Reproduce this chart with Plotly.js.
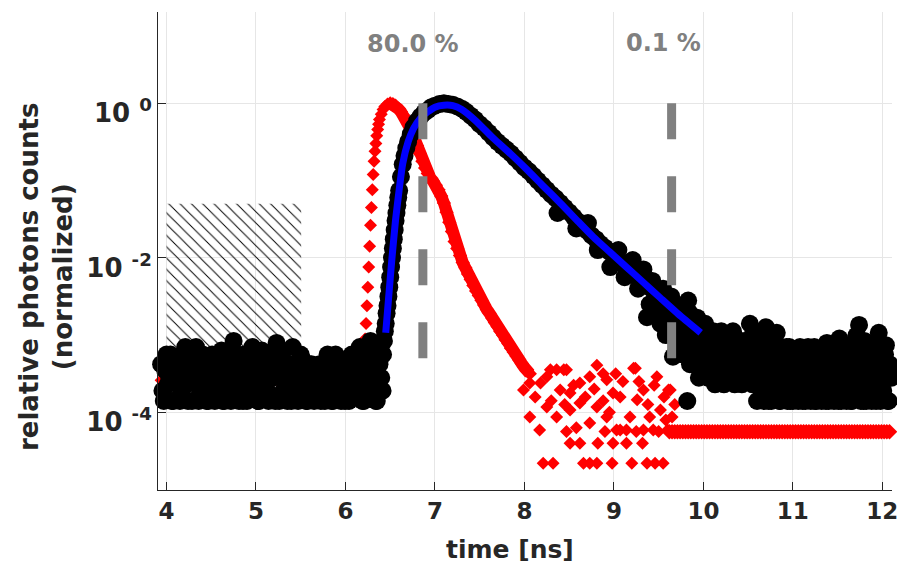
<!DOCTYPE html>
<html>
<head>
<meta charset="utf-8">
<script src="https://cdn.plot.ly/plotly-3.0.1.min.js"></script>
<style>html,body{margin:0;padding:0;background:#fff;}#chart{width:897px;height:567px;}</style>
</head>
<body>
<div id="chart"></div>
<script>
// ---------- IRF (red diamonds) ----------
const irfBaseX = [3.94,3.99,4.04,4.09,4.14,4.19,4.24,4.29,4.34,4.39,4.44,4.49,4.54,4.59,4.64,4.69,4.74,4.79,4.84,4.89,4.94,4.99,5.04,5.09,5.14,5.19,5.24,5.29,5.34,5.39,5.44,5.49,5.54,5.59,5.64,5.69,5.74,5.79,5.84,5.89,5.94,5.99,6.04,6.09,6.14,6.19];
const irfBaseY = [2.6e-4,2.6e-4,2.4e-4,2.6e-4,2.8e-4,2.6e-4,2.2e-4,2.6e-4,2.6e-4,2.4e-4,2.6e-4,2.6e-4,2.8e-4,2.6e-4,2.4e-4,2.6e-4,2.2e-4,2.6e-4,2.6e-4,2.6e-4,2.4e-4,2.8e-4,2.6e-4,2.6e-4,2.2e-4,2.6e-4,2.6e-4,2.4e-4,2.6e-4,2.6e-4,2.8e-4,2.6e-4,2.6e-4,2.2e-4,2.6e-4,2.4e-4,2.6e-4,2.6e-4,2.6e-4,2.8e-4,2.6e-4,2.4e-4,2.6e-4,2.6e-4,2.8e-4,3.0e-4];

const irfRiseX = [6.20,6.21,6.22,6.23,6.24,6.25,6.26,6.27,6.28,6.29,6.30,6.31,6.32,6.33,6.34,6.35,6.36,6.37,6.38,6.40,6.42,6.44,6.47];
const irfRiseY = [3.55e-4,5.62e-4,8.91e-4,1.41e-3,2.40e-3,4.17e-3,7.59e-3,0.0141,0.0263,0.0447,0.0759,0.120,0.178,0.240,0.302,0.380,0.457,0.537,0.617,0.724,0.832,0.912,0.977];

const irfFallX = [6.50,6.53,6.56,6.59,6.62,6.65,6.68,6.71,6.74,6.77,6.80,6.83,6.86,6.89,6.92,6.95,6.98,7.01,7.04,7.07,7.10,7.13,7.16,7.19,7.22,7.25,7.28,7.31,7.34,7.37,7.40,7.43,7.46,7.49,7.52,7.55,7.58,7.61,7.64,7.67,7.70,7.73,7.76,7.79,7.82,7.85,7.88,7.91,7.94,7.97,8.00,8.03,8.06];
const irfFallY = [1,0.977,0.933,0.851,0.776,0.692,0.617,0.525,0.437,0.355,0.282,0.224,0.178,0.145,0.123,0.107,0.0977,0.0871,0.0759,0.0631,0.0513,0.0389,0.0288,0.0219,0.0162,0.0132,0.0107,8.71e-3,7.41e-3,6.17e-3,5.25e-3,4.37e-3,3.72e-3,3.24e-3,2.82e-3,2.45e-3,2.14e-3,1.91e-3,1.66e-3,1.45e-3,1.29e-3,1.12e-3,1.0e-3,8.71e-4,7.76e-4,6.76e-4,6.03e-4,5.37e-4,4.79e-4,4.27e-4,3.80e-4,3.47e-4,3.16e-4];

const irfNoiseX = [7.99,8.06,8.17,8.25,8.21,8.32,8.36,8.47,8.51,8.47,
  8.51,8.62,8.66,8.73,8.81,8.98,9.20,9.37,9.46,9.55,
  8.81,8.81,8.73,8.82,8.92,8.99,9.07,9.07,9.14,9.24,
  9.26,9.32,9.40,9.48,9.52,9.63,9.65,9.60,8.25,8.06,
  8.40,8.62,8.73,8.51,8.62,8.36,8.92,9.03,9.18,9.33,
  9.44,8.99,9.14,9.33,9.22,9.61,8.29,8.44,8.12,8.18,
  8.30,8.45,8.55,8.68,8.78,8.88,8.95,9.10,9.28,9.38,
  9.56,9.58,8.90,9.25,9.50,8.58,8.88,9.02,9.45,9.68,9.66];
const irfNoiseY = [1.95e-4,8.71e-5,5.89e-5,1.17e-4,2.19e-5,2.19e-5,3.55e-4,3.55e-4,1.78e-4,5.62e-5,
  3.98e-5,3.98e-5,2.19e-5,2.19e-5,2.19e-5,2.19e-5,2.19e-5,2.19e-5,2.19e-5,2.19e-5,
  4.07e-4,1.17e-4,7.24e-5,3.98e-5,2.63e-4,1.78e-4,1.58e-4,5.89e-5,3.98e-5,3.72e-4,
  1.45e-4,3.98e-5,8.71e-5,2.88e-4,1.07e-4,1.95e-4,8.71e-5,5.89e-5,2.88e-4,2.40e-4,
  1.95e-4,2.40e-4,2.88e-4,1.07e-4,1.32e-4,8.71e-5,8.71e-5,5.89e-5,8.71e-5,1.95e-4,
  5.89e-5,3.98e-5,5.89e-5,5.89e-5,3.72e-4,1.95e-4,3.55e-4,3.55e-4,1.58e-4,2.40e-4,
  1.41e-4,1.26e-4,2.24e-4,1.58e-4,2.0e-4,1.41e-4,1.0e-4,2.51e-4,2.51e-4,1.26e-4,
  1.58e-4,7.94e-5,5.62e-5,5.62e-5,5.62e-5,6.31e-5,3.16e-4,3.16e-4,2.24e-4,1.26e-4,5.62e-5];

const irfTailX = [9.62,9.65,9.68,9.71,9.74,9.77,9.80,9.83,9.86,9.89,9.92,9.95,9.98,
  10.01,10.04,10.07,10.10,10.13,10.16,10.19,10.22,10.25,10.28,10.31,10.34,10.37,10.40,10.43,10.46,10.49,10.52,10.55,10.58,10.61,10.64,10.67,10.70,10.73,10.76,10.79,10.82,10.85,10.88,10.91,10.94,10.97,
  11.00,11.03,11.06,11.09,11.12,11.15,11.18,11.21,11.24,11.27,11.30,11.33,11.36,11.39,11.42,11.45,11.48,11.51,11.54,11.57,11.60,11.63,11.66,11.69,11.72,11.75,11.78,11.81,11.84,11.87,11.90,11.93,11.96,11.99,
  12.02,12.05,12.08];
const irfTailY = [5.6e-5,5.6e-5,5.6e-5,5.6e-5,5.6e-5,5.6e-5,5.6e-5,5.6e-5,5.6e-5,5.6e-5,5.6e-5,5.6e-5,5.6e-5,
  5.6e-5,5.6e-5,5.6e-5,5.6e-5,5.6e-5,5.6e-5,5.6e-5,5.6e-5,5.6e-5,5.6e-5,5.6e-5,5.6e-5,5.6e-5,5.6e-5,5.6e-5,5.6e-5,5.6e-5,5.6e-5,5.6e-5,5.6e-5,5.6e-5,5.6e-5,5.6e-5,5.6e-5,5.6e-5,5.6e-5,5.6e-5,5.6e-5,5.6e-5,5.6e-5,5.6e-5,5.6e-5,5.6e-5,
  5.6e-5,5.6e-5,5.6e-5,5.6e-5,5.6e-5,5.6e-5,5.6e-5,5.6e-5,5.6e-5,5.6e-5,5.6e-5,5.6e-5,5.6e-5,5.6e-5,5.6e-5,5.6e-5,5.6e-5,5.6e-5,5.6e-5,5.6e-5,5.6e-5,5.6e-5,5.6e-5,5.6e-5,5.6e-5,5.6e-5,5.6e-5,5.6e-5,5.6e-5,5.6e-5,5.6e-5,5.6e-5,5.6e-5,5.6e-5,
  5.6e-5,5.6e-5,5.6e-5];

// ---------- Decay data (black circles) ----------
const decayBaseX = [3.94,3.97,4.00,4.03,4.06,4.09,4.12,4.15,4.18,4.21,4.24,4.27,4.30,4.33,4.36,4.39,4.42,4.45,4.48,4.51,
  4.54,4.57,4.60,4.63,4.66,4.69,4.72,4.75,4.78,4.81,4.84,4.87,4.90,4.93,4.96,4.99,5.02,5.05,5.08,5.11,
  5.14,5.17,5.20,5.23,5.26,5.29,5.32,5.35,5.38,5.41,5.44,5.47,5.50,5.53,5.56,5.59,5.62,5.65,5.68,5.71,
  5.74,5.77,5.80,5.83,5.86,5.89,5.92,5.95,5.98,6.01,6.04,6.07,6.10,6.13,6.16,6.19,6.22,6.25,6.28,6.31,
  6.34,6.35,6.37,6.38,6.40,6.42,6.43];
const decayBaseY = [4.2e-4,1.4e-4,5.6e-4,2.8e-4,1.4e-4,4.2e-4,2.8e-4,1.4e-4,5.6e-4,7.0e-4,1.4e-4,2.8e-4,4.2e-4,7.0e-4,1.4e-4,2.8e-4,4.2e-4,1.4e-4,2.8e-4,5.6e-4,
  1.4e-4,4.2e-4,2.8e-4,1.4e-4,5.6e-4,2.8e-4,1.4e-4,8.4e-4,4.2e-4,1.4e-4,2.8e-4,5.6e-4,1.4e-4,4.2e-4,7.0e-4,2.8e-4,1.4e-4,4.2e-4,2.8e-4,5.6e-4,
  1.4e-4,2.8e-4,4.2e-4,7.9e-4,1.4e-4,5.6e-4,2.8e-4,1.4e-4,4.2e-4,7.0e-4,2.8e-4,1.4e-4,5.6e-4,2.8e-4,1.4e-4,4.2e-4,4.2e-4,1.4e-4,2.8e-4,4.2e-4,
  2.8e-4,1.4e-4,5.6e-4,4.2e-4,1.4e-4,5.6e-4,2.8e-4,1.4e-4,4.2e-4,2.8e-4,1.4e-4,5.6e-4,4.2e-4,2.8e-4,7.0e-4,1.4e-4,5.6e-4,2.8e-4,8.4e-4,4.2e-4,
  1.4e-4,1.4e-4,7.0e-4,4.2e-4,2.8e-4,5.6e-4,8.4e-4];

const decayBase2X = [3.955,3.985,4.015,4.045,4.075,4.105,4.135,4.165,4.195,4.225,4.255,4.285,4.315,4.345,4.375,4.405,4.435,4.465,4.495,4.525,
  4.555,4.585,4.615,4.645,4.675,4.705,4.735,4.765,4.795,4.825,4.855,4.885,4.915,4.945,4.975,5.005,5.035,5.065,5.095,5.125,
  5.155,5.185,5.215,5.245,5.275,5.305,5.335,5.365,5.395,5.425,5.455,5.485,5.515,5.545,5.575,5.605,5.635,5.665,5.695,5.725,
  5.755,5.785,5.815,5.845,5.875,5.905,5.935,5.965,5.995,6.025,6.055,6.085,6.115,6.145,6.175,6.205,6.235,6.265,6.295,6.325,
  6.355,6.385,6.415];
const decayBase2Y = [1.9e-4,3.5e-4,2.3e-4,5.6e-4,1.4e-4,2.8e-4,4.2e-4,1.9e-4,3.5e-4,2.3e-4,
  4.9e-4,1.4e-4,2.8e-4,3.5e-4,1.9e-4,5.6e-4,2.3e-4,1.4e-4,4.2e-4,2.8e-4,
  1.9e-4,3.5e-4,6.3e-4,1.4e-4,2.3e-4,4.2e-4,2.8e-4,1.9e-4,5.6e-4,3.5e-4,
  1.4e-4,2.3e-4,4.9e-4,1.9e-4,2.8e-4,3.5e-4,1.4e-4,6.3e-4,2.3e-4,1.9e-4,
  4.2e-4,2.8e-4,1.4e-4,3.5e-4,5.6e-4,1.9e-4,2.3e-4,4.2e-4,1.4e-4,2.8e-4,
  3.5e-4,1.9e-4,4.9e-4,2.3e-4,1.4e-4,2.8e-4,3.5e-4,1.9e-4,2.3e-4,1.4e-4,
  1.9e-4,4.2e-4,2.3e-4,1.4e-4,3.5e-4,4.9e-4,1.9e-4,2.8e-4,1.4e-4,3.5e-4,
  2.3e-4,5.6e-4,1.9e-4,3.5e-4,2.3e-4,1.4e-4,4.2e-4,2.8e-4,1.9e-4,3.5e-4,
  2.3e-4,4.9e-4,1.9e-4];

const decayPeakX = [6.44,6.45,6.46,6.47,6.48,6.49,6.50,6.51,6.52,6.53,6.54,6.55,6.56,6.57,6.58,6.59,6.60,6.62,6.64,6.66,6.68,6.70,6.73,6.76,6.80,6.84,6.88,6.92,6.96,7.00,
  7.05,7.10,7.15,7.20,7.25,7.30,7.35,7.40,7.45,7.50,7.55,7.60,7.65,7.70,7.75,7.80,7.85,7.90,7.95,8.00,8.05,8.10,8.15,8.20,8.25,8.30,8.35,8.40,8.45,8.50,
  8.55,8.60,8.65,8.70,8.75,8.80,8.85,8.90,8.95,9.00,9.05,9.10,9.15,9.20,9.25,9.30,9.35,9.40,9.45,9.50,9.55,9.60];
const decayPeakY = [1.12e-3,1.41e-3,1.91e-3,2.40e-3,3.16e-3,4.17e-3,5.62e-3,7.59e-3,1.00e-2,1.32e-2,1.74e-2,2.29e-2,3.02e-2,3.80e-2,4.79e-2,6.03e-2,7.41e-2,0.112,0.162,0.209,0.263,0.316,0.398,0.490,0.589,0.676,0.759,0.813,0.891,0.933,
  0.977,1.0,0.977,0.955,0.912,0.851,0.776,0.692,0.617,0.537,0.479,0.417,0.363,0.316,0.282,0.251,0.224,0.195,0.170,0.148,0.132,0.115,0.100,0.0871,0.0759,0.0661,0.0589,0.0513,0.0447,0.0389,
  0.0339,0.0295,0.0263,0.0224,0.0195,0.0174,0.0151,0.0135,0.0120,0.0107,9.33e-3,8.32e-3,7.41e-3,6.61e-3,5.89e-3,5.25e-3,4.68e-3,4.17e-3,3.63e-3,3.16e-3,2.82e-3,2.51e-3];

const decayScatterX = [8.37,8.58,8.71,8.82,8.96,9.05,9.12,9.21,9.27,9.33,9.37,9.40,9.43,9.47,9.52,9.55,9.58,9.62,9.64,9.66,9.68,9.70];
const decayScatterY = [0.038,0.024,0.0282,0.0126,7.59e-3,0.0126,5.62e-3,9.33e-3,3.98e-3,7.08e-3,1.70e-3,2.51e-3,5.01e-3,2.0e-3,1.41e-3,3.98e-3,1.0e-3,1.78e-3,3.16e-3,5.25e-4,1.26e-3,2.40e-3];

const decayTailX = [9.72,9.74,9.76,9.78,9.80,9.82,9.84,9.86,9.88,9.90,9.92,9.94,9.96,9.98,
  10.00,10.02,10.04,10.06,10.08,10.10,10.12,10.14,10.16,10.18,10.20,10.22,10.24,10.26,10.28,10.30,10.32,10.34,10.36,10.38,10.40,10.42,10.44,10.46,10.48,10.50,10.52,10.54,10.56,10.58,
  10.60,10.62,10.64,10.66,10.68,10.70,10.72,10.74,10.76,10.78,10.80,10.82,10.84,10.86,10.88,10.90,10.92,10.94,10.96,10.98,
  11.00,11.02,11.04,11.06,11.08,11.10,11.12,11.14,11.16,11.18,11.20,11.22,11.24,11.26,11.28,11.30,11.32,11.34,11.36,11.38,
  11.40,11.42,11.44,11.46,11.48,11.50,11.52,11.54,11.56,11.58,11.60,11.62,11.64,11.66,11.68,11.70,11.72,11.74,11.76,11.78,
  11.80,11.82,11.84,11.86,11.88,11.90,11.92,11.94,11.96,11.98,12.00,12.02,12.04,12.06,12.08,12.10];
const decayTailY = [14e-4,7e-4,22e-4,5.6e-4,11.2e-4,1.4e-4,19.6e-4,8.4e-4,4.2e-4,14e-4,7e-4,11.2e-4,4.2e-4,9.8e-4,
  5.6e-4,14e-4,8.4e-4,2.8e-4,11.2e-4,4.2e-4,7e-4,9.8e-4,2.8e-4,5.6e-4,11.2e-4,4.2e-4,7e-4,2.8e-4,8.4e-4,5.6e-4,4.2e-4,9.8e-4,2.8e-4,7e-4,5.6e-4,4.2e-4,2.8e-4,8.4e-4,5.6e-4,2.8e-4,14e-4,4.2e-4,11.2e-4,2.8e-4,
  1.4e-4,4.2e-4,2.8e-4,7e-4,1.4e-4,12.6e-4,5.6e-4,2.8e-4,1.4e-4,4.2e-4,8.4e-4,10.7e-4,2.8e-4,1.4e-4,5.6e-4,4.2e-4,2.8e-4,1.4e-4,7e-4,4.2e-4,
  1.4e-4,2.8e-4,5.6e-4,1.4e-4,7e-4,4.2e-4,2.8e-4,1.4e-4,5.6e-4,2.8e-4,1.4e-4,4.2e-4,7e-4,1.4e-4,2.8e-4,5.6e-4,1.4e-4,4.2e-4,2.8e-4,7.9e-4,
  1.4e-4,5.6e-4,2.8e-4,1.4e-4,4.2e-4,2.8e-4,9e-4,1.4e-4,5.6e-4,4.2e-4,1.4e-4,2.8e-4,7e-4,1.4e-4,4.2e-4,2.8e-4,5.6e-4,13.5e-4,1.4e-4,2.8e-4,
  8.4e-4,1.4e-4,4.2e-4,5.6e-4,1.4e-4,2.8e-4,7e-4,4.2e-4,10.7e-4,1.4e-4,5.6e-4,2.8e-4,7.4e-4,1.4e-4,4.2e-4,2.8e-4];

const decayTail2X = [9.73,9.75,9.77,9.79,9.81,9.83,9.85,9.87,9.89,9.91,9.93,9.95,9.97,9.99,
  10.01,10.03,10.05,10.07,10.09,10.11,10.13,10.15,10.17,10.19,10.21,10.23,10.25,10.27,10.29,10.31,10.33,10.35,10.37,10.39,10.41,10.43,10.45,10.47,10.49,10.51,10.53,10.55,10.57,10.59,
  10.61,10.63,10.65,10.67,10.69,10.71,10.73,10.75,10.77,10.79,10.81,10.83,10.85,10.87,10.89,10.91,10.93,10.95,10.97,10.99,
  11.01,11.03,11.05,11.07,11.09,11.11,11.13,11.15,11.17,11.19,11.21,11.23,11.25,11.27,11.29,11.31,11.33,11.35,11.37,11.39,
  11.41,11.43,11.45,11.47,11.49,11.51,11.53,11.55,11.57,11.59,11.61,11.63,11.65,11.67,11.69,11.71,11.73,11.75,11.77,11.79,
  11.81,11.83,11.85,11.87,11.89,11.91,11.93,11.95,11.97,11.99,12.01,12.03,12.05,12.07,12.09];
const decayTail2Y = [9.8e-4,16.8e-4,5.6e-4,12.6e-4,7e-4,28e-4,4.2e-4,11.2e-4,8.4e-4,5.6e-4,16.8e-4,2.8e-4,7e-4,12.6e-4,
  4.2e-4,9.8e-4,2.8e-4,7e-4,5.6e-4,11.2e-4,2.3e-4,8.4e-4,4.2e-4,3.5e-4,9.8e-4,2.3e-4,5.6e-4,7e-4,2.8e-4,4.2e-4,11.2e-4,2.3e-4,5.6e-4,3.5e-4,8.4e-4,2.3e-4,4.2e-4,7e-4,2.8e-4,5.6e-4,3.5e-4,2.3e-4,8.4e-4,4.2e-4,
  2.3e-4,5.6e-4,1.9e-4,3.5e-4,8.4e-4,2.3e-4,1.4e-4,4.9e-4,3.5e-4,1.9e-4,2.8e-4,5.6e-4,1.4e-4,2.3e-4,3.5e-4,1.9e-4,7e-4,2.8e-4,1.4e-4,4.9e-4,
  2.3e-4,3.5e-4,1.9e-4,5.6e-4,2.8e-4,1.4e-4,3.5e-4,2.3e-4,7e-4,1.9e-4,2.8e-4,4.9e-4,1.4e-4,3.5e-4,2.3e-4,1.9e-4,5.6e-4,2.8e-4,1.4e-4,4.2e-4,
  2.3e-4,3.5e-4,1.9e-4,7e-4,2.8e-4,1.4e-4,4.9e-4,2.3e-4,3.5e-4,1.9e-4,5.6e-4,2.8e-4,1.4e-4,3.5e-4,2.3e-4,9.8e-4,1.9e-4,4.9e-4,2.8e-4,1.4e-4,
  3.5e-4,5.6e-4,2.3e-4,1.9e-4,7e-4,2.8e-4,1.4e-4,4.2e-4,3.5e-4,2.3e-4,1.9e-4,5.6e-4,2.8e-4,1.4e-4,3.5e-4];

// ---------- Fit (blue line) ----------
const fitX = [6.45,6.48,6.52,6.56,6.60,6.64,6.70,6.76,6.84,6.92,7.00,7.10,7.20,7.30,7.45,7.65,7.85,8.03,8.20,8.40,8.60,8.77,8.95,9.14,9.33,9.52,9.75,9.97];
const fitY = [1.07e-3,2.82e-3,1.0e-2,3.09e-2,7.59e-2,0.166,0.316,0.470,0.646,0.776,0.891,0.944,0.933,0.832,0.603,0.355,0.219,0.138,0.0871,0.0513,0.0295,0.0186,0.0120,7.59e-3,4.79e-3,3.02e-3,1.74e-3,1.07e-3];

// ---------- Window markers ----------
const windowX = [6.865, 9.645];
const windowLabels = ['80.0 %', '0.1 %'];
const windowYSpan = [1, 5e-4];

// ---------- Background (hatched) region ----------
const bgX = [4.0, 5.505];
const bgY = [2e-4, 0.05];

const FONT = 'DejaVu Sans';
const INK = '#262626';
const RED = '#ff0000';

const traces = [];
traces.push({
  x: [bgX[0], bgX[1], bgX[1], bgX[0], bgX[0]],
  y: [bgY[0], bgY[0], bgY[1], bgY[1], bgY[0]],
  mode: 'lines', fill: 'toself', fillcolor: 'rgba(0,0,0,0)',
  fillpattern: {shape: '\\', size: 8, solidity: 0.12, fgcolor: '#000', bgcolor: 'rgba(255,255,255,0)'},
  line: {width: 0, color: 'rgba(0,0,0,0)'}, hoverinfo: 'skip'
});
// falling edge: dense diamonds merging into a band
traces.push({x: irfFallX, y: irfFallY, mode: 'lines+markers',
  marker: {symbol: 'diamond', size: 11, color: RED, line: {width: 0}},
  line: {color: RED, width: 12}, cliponaxis: false});
// flat tail: a row of overlapping diamonds
traces.push({x: irfTailX, y: irfTailY, mode: 'markers',
  marker: {symbol: 'diamond', size: 12, color: RED, line: {width: 0}}, cliponaxis: false});
traces.push({x: irfBaseX.concat(irfRiseX, irfNoiseX), y: irfBaseY.concat(irfRiseY, irfNoiseY),
  mode: 'markers', marker: {symbol: 'diamond', size: 10, color: RED, line: {width: 0}}, cliponaxis: false});
traces.push({x: decayBaseX.concat(decayBase2X, decayPeakX, decayScatterX, decayTailX, decayTail2X),
  y: decayBaseY.concat(decayBase2Y, decayPeakY, decayScatterY, decayTailY, decayTail2Y),
  mode: 'markers', marker: {symbol: 'circle', size: 18, color: '#000', line: {width: 0}}, cliponaxis: false});
traces.push({x: fitX, y: fitY, mode: 'lines', line: {color: '#0000ff', width: 7, shape: 'spline', smoothing: 0.6}});
windowX.forEach(function (wx) {
  traces.push({x: [wx, wx], y: windowYSpan, mode: 'lines',
    line: {color: '#808080', width: 9, dash: '36px,37px'}});
});

const annotations = [
  {x: 6.751, y: 0.768, xref: 'x', yref: 'y', text: windowLabels[0], showarrow: false, xanchor: 'center', yanchor: 'middle',
   font: {family: FONT, size: 24, weight: 'bold', color: '#808080'}},
  {x: 9.55, y: 0.78, xref: 'x', yref: 'y', text: windowLabels[1], showarrow: false, xanchor: 'center', yanchor: 'middle',
   font: {family: FONT, size: 24, weight: 'bold', color: '#808080'}},
  {x: 0.479, y: -0.1255, xref: 'paper', yref: 'paper', text: 'time [ns]', showarrow: false, xanchor: 'center', yanchor: 'middle',
   font: {family: FONT, size: 25, weight: 'bold', color: INK}},
  {x: -0.1526, y: 0.4456, xref: 'paper', yref: 'paper', text: 'relative photons counts<br>(normalized)', textangle: -90,
   showarrow: false, xanchor: 'center', yanchor: 'middle',
   font: {family: FONT, size: 26, weight: 'bold', color: INK}}
];

const layout = {
  width: 897, height: 567,
  margin: {l: 158, r: 5, t: 12, b: 77, pad: 0},
  paper_bgcolor: '#fff', plot_bgcolor: '#fff',
  showlegend: false,
  xaxis: {range: [3.905, 12.108], tickvals: [4,5,6,7,8,9,10,11,12], ticktext: ['4','5','6','7','8','9','10','11','12'],
    ticks: 'inside', ticklen: 8, tickcolor: INK, showline: true, linecolor: INK, linewidth: 1,
    ticklabeloverflow: 'allow',
    showgrid: true, gridcolor: '#e6e6e6', gridwidth: 1, zeroline: false,
    tickfont: {family: FONT, size: 23, weight: 'bold', color: INK}},
  yaxis: {type: 'log', range: [-5.006, 1.182], tickvals: [1e-4, 1e-2, 1],
    ticktext: ['10 <sup>-4</sup>', '10 <sup>-2</sup>', '10 <sup>0</sup>'],
    ticklabelshift: 10,
    ticks: 'inside', ticklen: 8, tickcolor: INK, showline: true, linecolor: INK, linewidth: 1,
    showgrid: true, gridcolor: '#e6e6e6', gridwidth: 1, zeroline: false,
    tickfont: {family: FONT, size: 26, weight: 'bold', color: INK}},
  annotations: annotations
};

Plotly.newPlot('chart', traces, layout, {staticPlot: true, displayModeBar: false});
</script>
</body>
</html>
